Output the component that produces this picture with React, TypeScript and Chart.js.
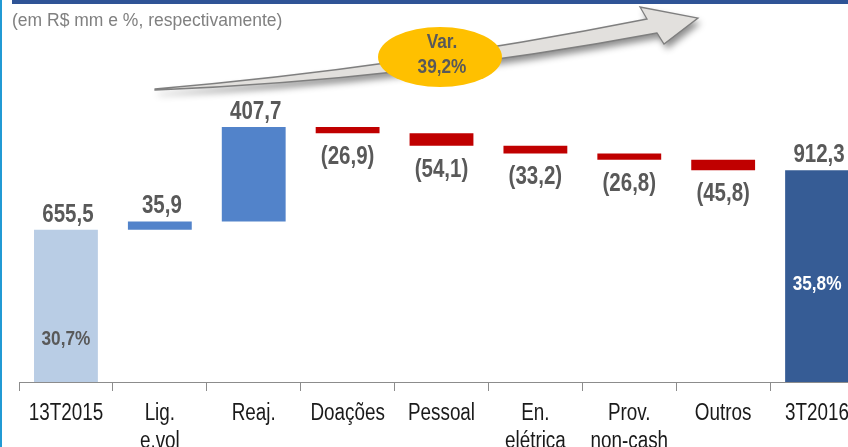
import React, { useEffect, useRef } from 'react';
import { Chart, registerables } from 'chart.js';

Chart.register(...registerables);

// ---------- data ----------
const categories: (string | string[])[] = [
  '13T2015',
  ['Lig.', 'e.vol'],
  'Reaj.',
  'Doações',
  'Pessoal',
  ['En.', 'elétrica'],
  ['Prov.', 'non-cash'],
  'Outros',
  '3T2016',
];
const values = [655.5, 35.9, 407.7, -26.9, -54.1, -33.2, -26.8, -45.8, 912.3];
const isTotal = [true, false, false, false, false, false, false, false, true];
const valueLabels = ['655,5', '35,9', '407,7', '(26,9)', '(54,1)', '(33,2)', '(26,8)', '(45,8)', '912,3'];
const marginLabels = ['30,7%', '', '', '', '', '', '', '', '35,8%'];
const subtitle = '(em R$ mm e %, respectivamente)';
const varLabel = ['Var.', '39,2%'];

// ---------- styles ----------
const barColors = ['#B9CDE5', '#5283CA', '#5283CA', '#C00000', '#C00000', '#C00000', '#C00000', '#C00000', '#365C95'];
const marginColors = ['#595959', '', '', '', '', '', '', '', '#FFFFFF'];
const marginFrac = [0.28, 0, 0, 0, 0, 0, 0, 0, 0.46];
const SANS = '"Liberation Sans", Arial, sans-serif';
const NARROW_X = 0.82; // emulate Arial Narrow by horizontal compression
const Y_MAX = 1646;

// floating bars built from the values
function buildFloating() {
  const out: [number, number][] = [];
  let run = 0;
  values.forEach((v, i) => {
    if (isTotal[i]) {
      out.push([0, v]);
      run = v;
    } else {
      out.push([run, run + v]);
      run += v;
    }
  });
  return out;
}

function narrowText(ctx: CanvasRenderingContext2D, text: string, x: number, y: number, font: string, color: string) {
  ctx.save();
  ctx.translate(x, y);
  ctx.scale(NARROW_X, 1);
  ctx.font = font;
  ctx.fillStyle = color;
  ctx.textAlign = 'center';
  ctx.textBaseline = 'middle';
  ctx.fillText(text, 0, 0);
  ctx.restore();
}

const decorPlugin = {
  id: 'decor',
  beforeDraw(chart: any) {
    const ctx = chart.ctx;
    ctx.save();
    ctx.fillStyle = '#FFFFFF';
    ctx.fillRect(0, 0, chart.width, chart.height);
    // top band
    ctx.fillStyle = '#2F5496';
    ctx.fillRect(12, 0, chart.width - 12, 4);
    // left line
    ctx.fillStyle = '#219AD4';
    ctx.fillRect(0, 0, 2, chart.height);
    // subtitle
    ctx.fillStyle = '#808080';
    ctx.font = `17.5px ${SANS}`;
    ctx.textAlign = 'left';
    ctx.textBaseline = 'middle';
    ctx.fillText(subtitle, 12, 21);
    ctx.restore();
  },
  afterDraw(chart: any) {
    const ctx = chart.ctx;
    const meta = chart.getDatasetMeta(0);
    ctx.save();
    // data labels
    meta.data.forEach((bar: any, i: number) => {
      const top = Math.min(bar.y, bar.base);
      const bottom = Math.max(bar.y, bar.base);
      if (values[i] >= 0) {
        narrowText(ctx, valueLabels[i], bar.x + 2, top - 15, `bold 25px ${SANS}`, '#595959');
      } else {
        narrowText(ctx, valueLabels[i], bar.x, bottom + 24, `bold 25px ${SANS}`, '#595959');
      }
      if (marginLabels[i]) {
        narrowText(ctx, marginLabels[i], bar.x, bottom - (bottom - top) * marginFrac[i], `bold 21px ${SANS}`, marginColors[i]);
      }
    });

    // arrow
    ctx.save();
    ctx.beginPath();
    ctx.moveTo(155, 89);
    ctx.quadraticCurveTo(400, 68, 647, 19);
    ctx.lineTo(640, 7);
    ctx.lineTo(698, 18);
    ctx.lineTo(664, 44);
    ctx.lineTo(657, 33);
    ctx.quadraticCurveTo(406, 80, 155, 90);
    ctx.closePath();
    ctx.shadowColor = 'rgba(0,0,0,0.45)';
    ctx.shadowBlur = 7;
    ctx.shadowOffsetX = 3;
    ctx.shadowOffsetY = 5;
    ctx.fillStyle = '#E2E0DD';
    ctx.fill();
    ctx.shadowColor = 'transparent';
    ctx.strokeStyle = '#7F7F7F';
    ctx.lineWidth = 1.3;
    ctx.stroke();
    ctx.restore();

    // ellipse
    ctx.beginPath();
    ctx.ellipse(440, 57, 62, 30, 0, 0, Math.PI * 2);
    ctx.fillStyle = '#FFC000';
    ctx.fill();
    narrowText(ctx, varLabel[0], 442, 42, `bold 21px ${SANS}`, '#595959');
    narrowText(ctx, varLabel[1], 442, 67, `bold 21px ${SANS}`, '#595959');
    ctx.restore();
  },
};

// compress the x tick labels horizontally (Arial Narrow look), still drawn by the scale
function patchNarrowLabels(scale: any) {
  if (scale.__narrowPatched) return;
  scale.__narrowPatched = true;
  const orig = scale.drawLabels.bind(scale);
  scale.drawLabels = (area: any) => {
    const ctx = scale.ctx;
    const origFill = ctx.fillText;
    ctx.fillText = function (t: string, x: number, y: number, mw?: number) {
      this.save();
      this.translate(x, y);
      this.scale(NARROW_X, 1);
      if (mw === undefined) origFill.call(this, t, 0, 0);
      else origFill.call(this, t, 0, 0, mw);
      this.restore();
    };
    try {
      orig(area);
    } finally {
      ctx.fillText = origFill;
    }
  };
}

export default function App() {
  const ref = useRef<HTMLCanvasElement | null>(null);
  useEffect(() => {
    if (!ref.current) return;
    const chart = new Chart(ref.current, {
      type: 'bar',
      data: {
        labels: categories as any,
        datasets: [
          {
            data: buildFloating() as any,
            backgroundColor: barColors,
            borderWidth: 0,
            barPercentage: 0.68,
            categoryPercentage: 1,
          },
        ],
      },
      options: {
        responsive: false,
        animation: false,
        devicePixelRatio: 1,
        layout: { padding: { left: 19, right: 16, top: 0, bottom: 0 } },
        plugins: { legend: { display: false }, tooltip: { enabled: false }, title: { display: false } },
        scales: {
          x: {
            grid: {
              display: true,
              drawOnChartArea: false,
              drawTicks: true,
              tickLength: 9,
              color: '#8C8C8C',
              offset: true,
            },
            border: { display: true, color: '#8C8C8C', width: 1 },
            ticks: {
              autoSkip: false,
              maxRotation: 0,
              minRotation: 0,
              color: '#1A1A1A',
              padding: 9,
              font: { family: SANS, size: 23, lineHeight: 1.22 },
            },
            afterFit: (axis: any) => {
              axis.height = 65;
            },
            afterUpdate: (axis: any) => patchNarrowLabels(axis),
          },
          y: { display: false, min: 0, max: Y_MAX },
        },
      },
      plugins: [decorPlugin],
    });
    return () => chart.destroy();
  }, []);
  return (
    <div style={{ position: 'fixed', left: 0, top: 0, width: 848, height: 447, overflow: 'hidden', background: '#fff' }}>
      <canvas ref={ref} width={880} height={447} style={{ display: 'block' }} />
    </div>
  );
}
